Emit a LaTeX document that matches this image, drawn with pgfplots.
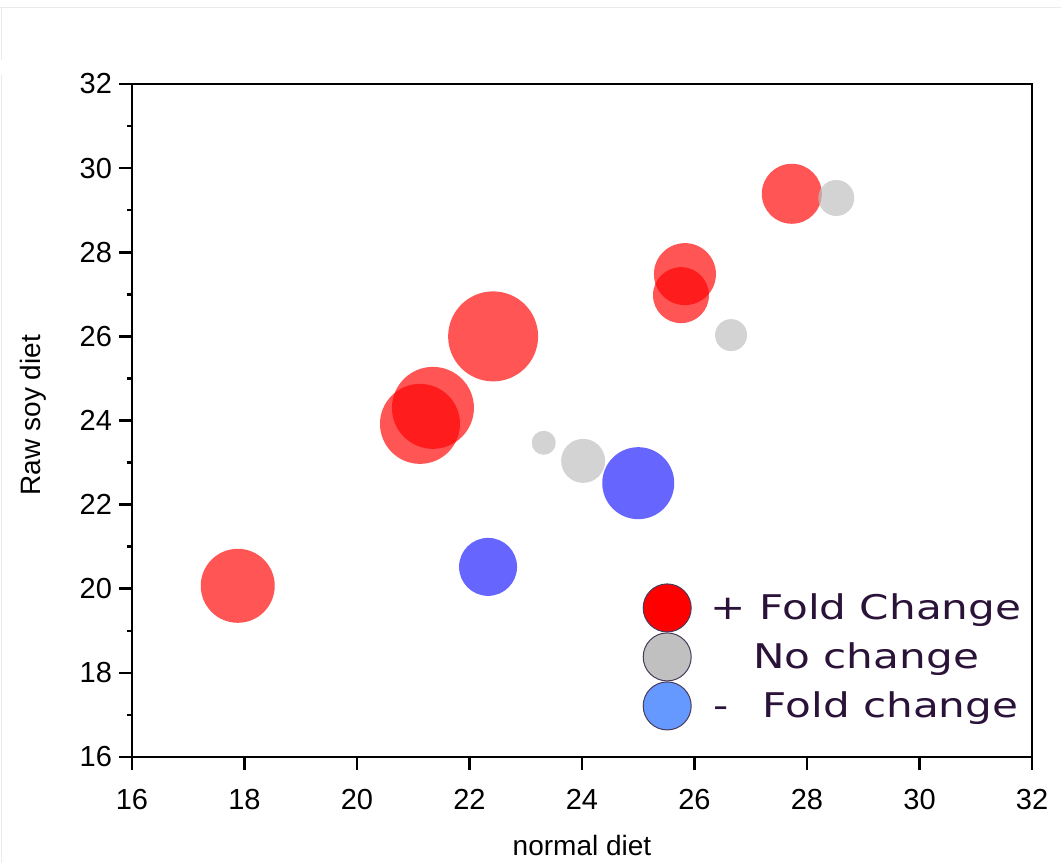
\documentclass[border=0pt]{standalone}
\usepackage{pgfplots}
\pgfplotsset{compat=1.18}
\usepackage{fontspec}
\setmainfont{Liberation Sans}
\newfontfamily\legfont[FakeStretch=1.24]{DejaVu Sans}
\definecolor{legtext}{HTML}{2A1238}
\definecolor{legline}{HTML}{4A3A5A}
\definecolor{bred}{HTML}{FF0000}
\definecolor{bgray}{HTML}{C0C0C0}
\definecolor{bblue}{HTML}{0000FF}
\definecolor{lblue}{HTML}{6699FF}

\pgfplotstableread{
x y r
17.88 20.07 18.5
21.12 23.92 20
21.35 24.30 20.5
22.42 26.00 22.5
25.83 27.48 15.5
25.76 26.98 14
27.73 29.39 15
}\redtab
\pgfplotstableread{
x y r
28.52 29.29 9
26.65 26.03 8
23.32 23.47 6
24.02 23.04 11
}\graytab
\pgfplotstableread{
x y r
25.00 22.51 18
22.33 20.52 14.5
}\bluetab

\begin{document}
\begin{tikzpicture}
\useasboundingbox (-66pt,-53pt) rectangle (464.5pt,378.5pt);
\draw[black!8, line width=0.5pt] (-66pt,374.5pt) -- (464.5pt,374.5pt);
\draw[black!8, line width=0.5pt] (-65pt,374.5pt) -- (-65pt,348.5pt);
\draw[black!8, line width=0.5pt] (-65pt,341pt) -- (-65pt,-53pt);
\begin{axis}[
  scale only axis, width=450pt, height=336.5pt,
  xmin=16, xmax=32, ymin=16, ymax=32,
  xtick={16,18,...,32}, ytick={16,18,...,32},
  minor x tick num=0, minor y tick num=1,
  tick align=outside, tick pos=left,
  major tick length=6.5pt, minor tick length=2.5pt,
  axis line style={line width=1.3pt},
  every tick/.style={black, line width=1.3pt},
  /pgf/number format/assume math mode=true,
  tick label style={font=\fontsize{14.5}{17}\selectfont},
  xticklabel style={yshift=-6pt},
  xlabel={normal diet}, ylabel={Raw soy diet},
  label style={font=\fontsize{14}{16}\selectfont},
  xlabel style={at={(axis description cs:0.5,-0.146)}, anchor=base},
  ylabel style={at={(axis description cs:-0.11,0.508)}, anchor=center, rotate=0},
  legend cell align=center,
  legend style={at={(axis description cs:0.567,0.2585)}, anchor=north west,
    draw=none, fill=none, inner sep=0pt, row sep=0pt,
    font=\legfont\fontsize{17}{20}\selectfont\color{legtext},
    nodes={inner xsep=9.5pt, inner ysep=0pt}},
]
\addlegendimage{legend image code/.code={\draw[fill=bred, draw=legline, line width=0.5pt] (12pt,0pt) circle (12pt);}}
\addlegendimage{legend image code/.code={\draw[fill=bgray, draw=legline, line width=0.5pt] (12pt,0pt) circle (12pt);}}
\addlegendimage{legend image code/.code={\draw[fill=lblue, draw=legline, line width=0.5pt] (12pt,0pt) circle (12pt);}}
\legend{+ Fold Change, No change, -\hspace{1em}Fold change}

\addplot[scatter, only marks, mark=*, forget plot,
  scatter/use mapped color={draw opacity=0, fill=bred, fill opacity=0.667},
  visualization depends on={\thisrow{r}\as\rad},
  scatter/@pre marker code/.append style={/tikz/mark size=\rad pt}]
  table[x=x,y=y] {\redtab};
\addplot[scatter, only marks, mark=*, forget plot,
  scatter/use mapped color={draw opacity=0, fill=bgray, fill opacity=0.7},
  visualization depends on={\thisrow{r}\as\rad},
  scatter/@pre marker code/.append style={/tikz/mark size=\rad pt}]
  table[x=x,y=y] {\graytab};
\addplot[scatter, only marks, mark=*, forget plot,
  scatter/use mapped color={draw opacity=0, fill=bblue, fill opacity=0.6},
  visualization depends on={\thisrow{r}\as\rad},
  scatter/@pre marker code/.append style={/tikz/mark size=\rad pt}]
  table[x=x,y=y] {\bluetab};
\end{axis}
\end{tikzpicture}
\end{document}
